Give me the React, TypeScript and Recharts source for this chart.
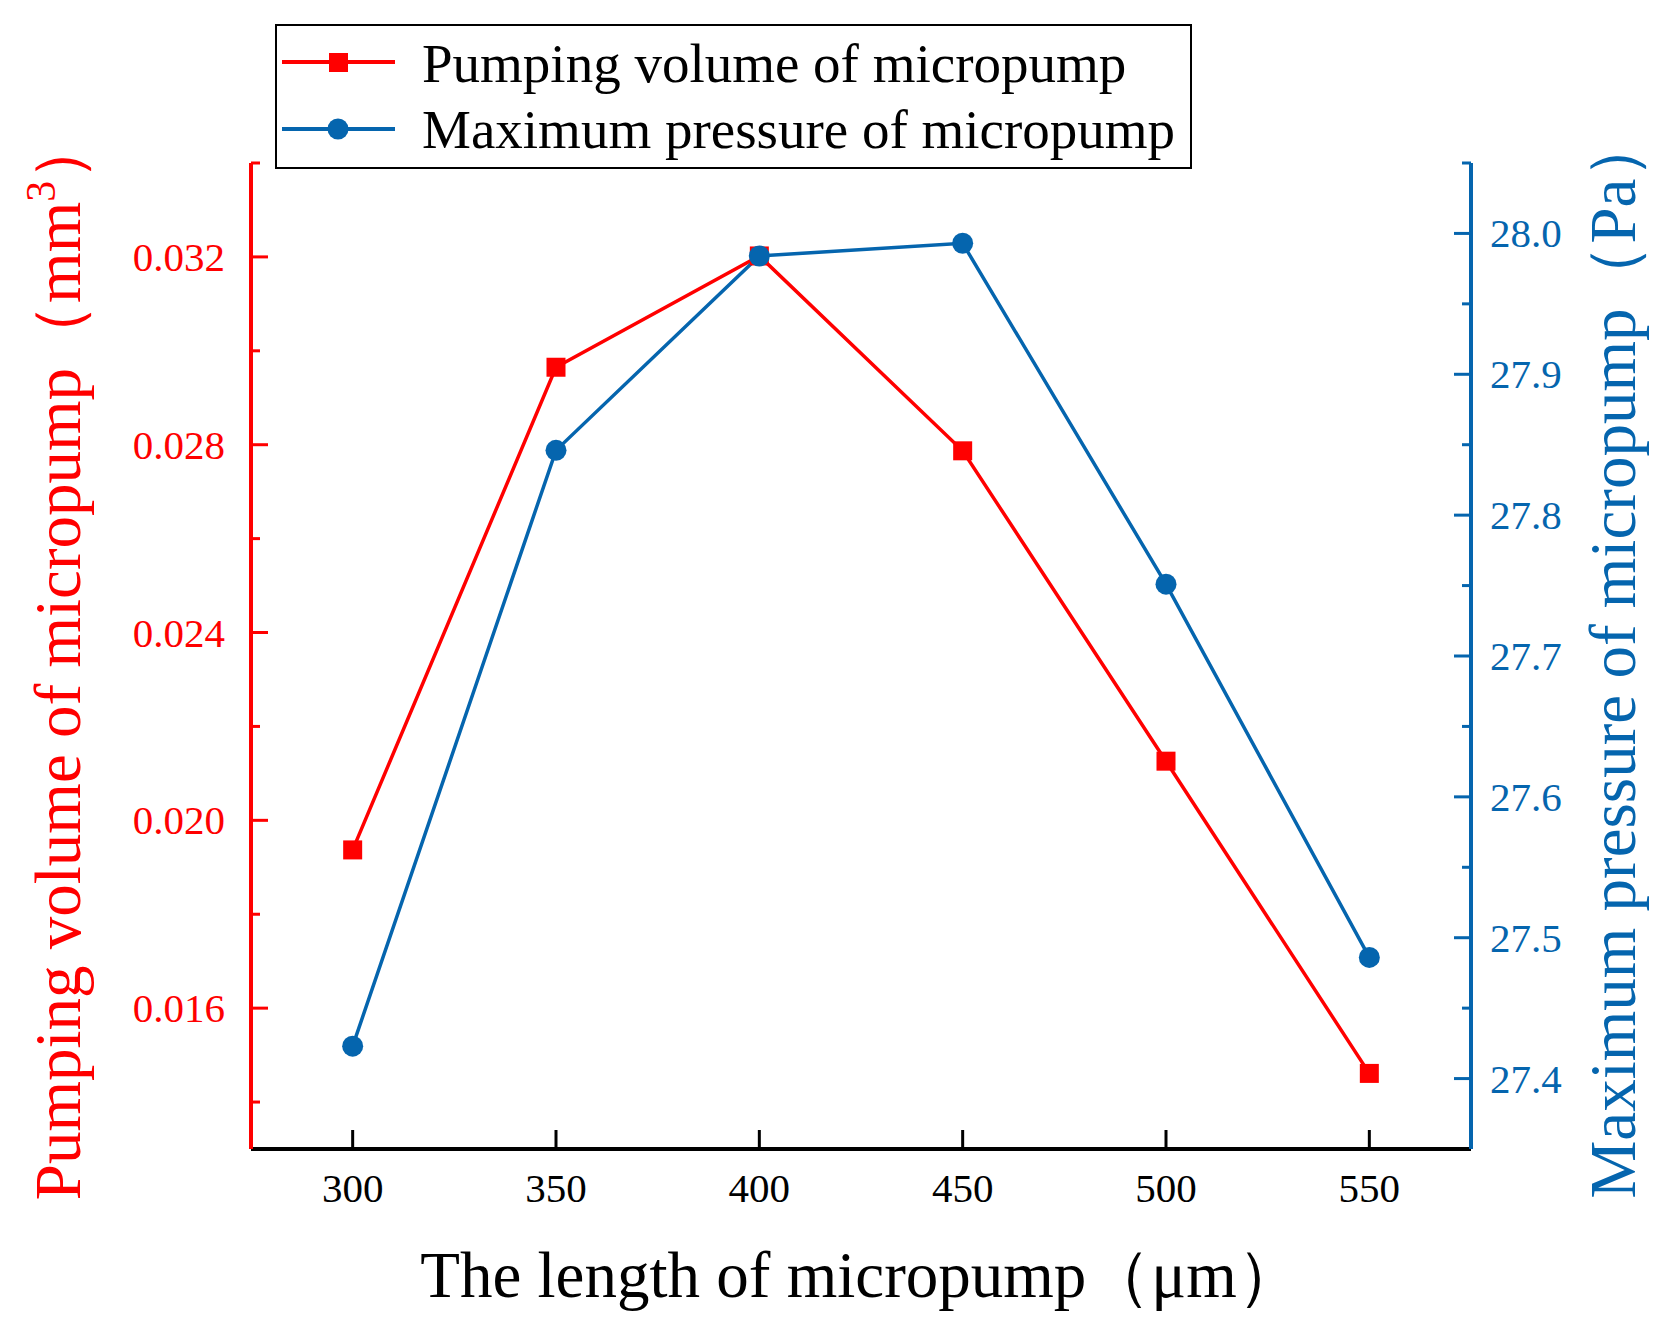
import { LineChart, Line, XAxis, YAxis, Legend } from "recharts";

const lengths = [300, 350, 400, 450, 500, 550];
const pumpingVolume = [0.01937, 0.02965, 0.03202, 0.02787, 0.02126, 0.01461];
const maxPressure = [27.423, 27.846, 27.984, 27.993, 27.751, 27.486];

const xTicks = [300, 350, 400, 450, 500, 550];
const volTicks = [0.014, 0.016, 0.018, 0.02, 0.022, 0.024, 0.026, 0.028, 0.03, 0.032, 0.034];
const volMajor = [0.016, 0.02, 0.024, 0.028, 0.032];
const presTicks = [27.4, 27.45, 27.5, 27.55, 27.6, 27.65, 27.7, 27.75, 27.8, 27.85, 27.9, 27.95, 28.0, 28.05];
const presMajor = [27.4, 27.5, 27.6, 27.7, 27.8, 27.9, 28.0];

const data = lengths.map((len, i) => ({
  length: len,
  volume: pumpingVolume[i],
  pressure: maxPressure[i],
}));

const RED = "#FF0000";
const BLUE = "#0565AE";
const FONT = "'Liberation Serif', 'Times New Roman', serif";

const VolTick = (props: any) => {
  const { x, y, payload } = props;
  const major = volMajor.includes(payload.value);
  return (
    <g>
      <line x1={x} x2={x + (major ? 17 : 9)} y1={y} y2={y} stroke={RED} strokeWidth={3} />
      {major && (
        <text x={x - 26} y={y + 14} textAnchor="end" fill={RED} fontSize={41} fontFamily={FONT}>
          {payload.value.toFixed(3)}
        </text>
      )}
    </g>
  );
};

const PresTick = (props: any) => {
  const { x, y, payload } = props;
  const major = presMajor.includes(payload.value);
  return (
    <g>
      <line x1={x} x2={x - (major ? 17 : 9)} y1={y} y2={y} stroke={BLUE} strokeWidth={3} />
      {major && (
        <text x={x + 19} y={y + 14} textAnchor="start" fill={BLUE} fontSize={41} fontFamily={FONT}>
          {payload.value.toFixed(1)}
        </text>
      )}
    </g>
  );
};

const LengthTick = (props: any) => {
  const { x, y, payload } = props;
  return (
    <g>
      <line x1={x} x2={x} y1={y} y2={y - 19} stroke="#000" strokeWidth={3} />
      <text x={x} y={y + 53} textAnchor="middle" fill="#000" fontSize={41} fontFamily={FONT}>
        {payload.value}
      </text>
    </g>
  );
};

const SquareDot = (props: any) => {
  const { cx, cy, index } = props;
  return <rect key={`sq${index}`} x={cx - 9.5} y={cy - 9.5} width={19} height={19} fill={RED} />;
};

const CircleDot = (props: any) => {
  const { cx, cy, index } = props;
  return <circle key={`ci${index}`} cx={cx} cy={cy} r={10.5} fill={BLUE} />;
};

const LegendBox = () => (
  <svg width={917} height={145} style={{ display: "block" }}>
    <rect x={1} y={1} width={915} height={143} fill="#fff" stroke="#000" strokeWidth={2} />
    <line x1={7} x2={120} y1={38} y2={38} stroke={RED} strokeWidth={4} />
    <rect x={54} y={29} width={19} height={19} fill={RED} />
    <text x={147} y={58} fontSize={55} fontFamily={FONT} fill="#000">
      Pumping volume of micropump
    </text>
    <line x1={7} x2={120} y1={105} y2={105} stroke={BLUE} strokeWidth={4} />
    <circle cx={63} cy={105} r={10.5} fill={BLUE} />
    <text x={147} y={124} fontSize={55} fontFamily={FONT} fill="#000">
      Maximum pressure of micropump
    </text>
  </svg>
);

export default function App() {
  return (
    <div style={{ position: "absolute", left: 0, top: 0, width: 1676, height: 1338, background: "#fff" }}>
      <LineChart
        width={1676}
        height={1338}
        data={data}
        margin={{ top: 163, right: 0, bottom: 0, left: 0 }}
        style={{ fontFamily: FONT }}
      >
        <XAxis
          dataKey="length"
          type="number"
          domain={[275, 575]}
          ticks={xTicks}
          allowDataOverflow
          height={189}
          tickSize={0}
          tickMargin={0}
          tickLine={false}
          tick={<LengthTick />}
          axisLine={{ stroke: "#000", strokeWidth: 4 }}
          label={(p: any) => {
            const vb = p.viewBox;
            return (
              <text x={861} y={vb.y + 148} textAnchor="middle" fontSize={65} fontFamily={FONT} fill="#000">
                The length of micropump（μm）
              </text>
            );
          }}
        />
        <YAxis
          yAxisId="vol"
          orientation="left"
          type="number"
          domain={[0.013, 0.034]}
          ticks={volTicks}
          allowDataOverflow
          width={251}
          tickSize={0}
          tickMargin={0}
          tickLine={false}
          tick={<VolTick />}
          axisLine={{ stroke: RED, strokeWidth: 4 }}
          label={(p: any) => {
            const vb = p.viewBox;
            const X = vb.x + 80;
            const Y = vb.y + vb.height / 2 + 2;
            return (
              <text
                x={X}
                y={Y}
                transform={`rotate(-90, ${X}, ${Y})`}
                textAnchor="middle"
                fontSize={65}
                fontFamily={FONT}
                fill={RED}
              >
                Pumping volume of micropump（mm
                <tspan dy={-25} fontSize={42}>3</tspan>
                <tspan dy={25}>）</tspan>
              </text>
            );
          }}
        />
        <YAxis
          yAxisId="pres"
          orientation="right"
          type="number"
          domain={[27.35, 28.05]}
          ticks={presTicks}
          allowDataOverflow
          width={205}
          tickSize={0}
          tickMargin={0}
          tickLine={false}
          tick={<PresTick />}
          axisLine={{ stroke: BLUE, strokeWidth: 4 }}
          label={(p: any) => {
            const vb = p.viewBox;
            const X = vb.x + 164;
            const Y = vb.y + vb.height / 2;
            return (
              <text
                x={X}
                y={Y}
                transform={`rotate(-90, ${X}, ${Y})`}
                textAnchor="middle"
                fontSize={65}
                fontFamily={FONT}
                fill={BLUE}
              >
                Maximum pressure of micropump（Pa）
              </text>
            );
          }}
        />
        <Legend
          layout="vertical"
          align="center"
          verticalAlign="middle"
          wrapperStyle={{ left: 275, top: 24, width: 917, height: 145 }}
          content={() => <LegendBox />}
        />
        <Line
          yAxisId="vol"
          dataKey="volume"
          type="linear"
          stroke={RED}
          strokeWidth={3.5}
          dot={SquareDot}
          activeDot={false}
          isAnimationActive={false}
        />
        <Line
          yAxisId="pres"
          dataKey="pressure"
          type="linear"
          stroke={BLUE}
          strokeWidth={3.5}
          dot={CircleDot}
          activeDot={false}
          isAnimationActive={false}
        />
      </LineChart>
    </div>
  );
}
